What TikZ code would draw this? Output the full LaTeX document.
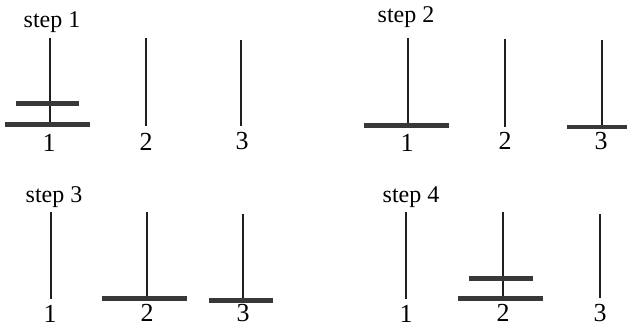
\documentclass[tikz,border=0pt]{standalone}
\usepackage{fontspec}
\setmainfont{Liberation Serif}
\begin{document}
\begin{tikzpicture}[x=1pt,y=-1pt,
  peg/.style={line width=1.8pt, draw=black!88},
  disk/.style={fill=black!78, draw=none},
  lbl/.style={font=\fontsize{26}{26}\selectfont, anchor=base, inner sep=0pt},
  title/.style={font=\fontsize{24}{24}\selectfont, anchor=base, inner sep=0pt}]
\useasboundingbox (0,0) rectangle (628,328);

% ---------- step 1 ----------
\node[title] (t1) at (52,28) {step 1};
\coordinate (a1t) at (50,38);  \coordinate (a1b) at (50,124);
\coordinate (a2t) at (146,38); \coordinate (a2b) at (146,126);
\coordinate (a3t) at (241,40); \coordinate (a3b) at (241,126);
\draw[peg] (a1t) -- (a1b);
\draw[peg] (a2t) -- (a2b);
\draw[peg] (a3t) -- (a3b);
\fill[disk] (16,101.5) rectangle (79,106.5);
\fill[disk] (5,122) rectangle (90,127);
\node[lbl] (a1) at (49,152) {1};
\node[lbl] (a2) at (146,151) {2};
\node[lbl] (a3) at (242,150) {3};

% ---------- step 2 ----------
\node[title] (t2) at (406,23) {step 2};
\coordinate (b1t) at (408,38);  \coordinate (b1b) at (408,124);
\coordinate (b2t) at (505,39);  \coordinate (b2b) at (505,127);
\coordinate (b3t) at (602,40);  \coordinate (b3b) at (602,127);
\draw[peg] (b1t) -- (b1b);
\draw[peg] (b2t) -- (b2b);
\draw[peg] (b3t) -- (b3b);
\fill[disk] (364,123) rectangle (449,128);
\fill[disk] (567,125.5) rectangle (627,129.5);
\node[lbl] (b1) at (407,152) {1};
\node[lbl] (b2) at (505,150) {2};
\node[lbl] (b3) at (601,150) {3};

% ---------- step 3 ----------
\node[title] (t3) at (54,203) {step 3};
\coordinate (c1t) at (51,212);  \coordinate (c1b) at (51,299);
\coordinate (c2t) at (147,212); \coordinate (c2b) at (147,298);
\coordinate (c3t) at (243,214); \coordinate (c3b) at (243,299);
\draw[peg] (c1t) -- (c1b);
\draw[peg] (c2t) -- (c2b);
\draw[peg] (c3t) -- (c3b);
\fill[disk] (102,296) rectangle (187,301);
\fill[disk] (209,298) rectangle (273,303);
\node[lbl] (c1) at (50,322.5) {1};
\node[lbl] (c2) at (147,321) {2};
\node[lbl] (c3) at (243,321) {3};

% ---------- step 4 ----------
\node[title] (t4) at (411,203) {step 4};
\coordinate (d1t) at (406,212); \coordinate (d1b) at (406,299);
\coordinate (d2t) at (503,212); \coordinate (d2b) at (503,298);
\coordinate (d3t) at (600,214); \coordinate (d3b) at (600,298);
\draw[peg] (d1t) -- (d1b);
\draw[peg] (d2t) -- (d2b);
\draw[peg] (d3t) -- (d3b);
\fill[disk] (469,276) rectangle (533,281);
\fill[disk] (458,296) rectangle (543,301);
\node[lbl] (d1) at (406,322.5) {1};
\node[lbl] (d2) at (503,321) {2};
\node[lbl] (d3) at (600,321) {3};
\end{tikzpicture}
\end{document}
